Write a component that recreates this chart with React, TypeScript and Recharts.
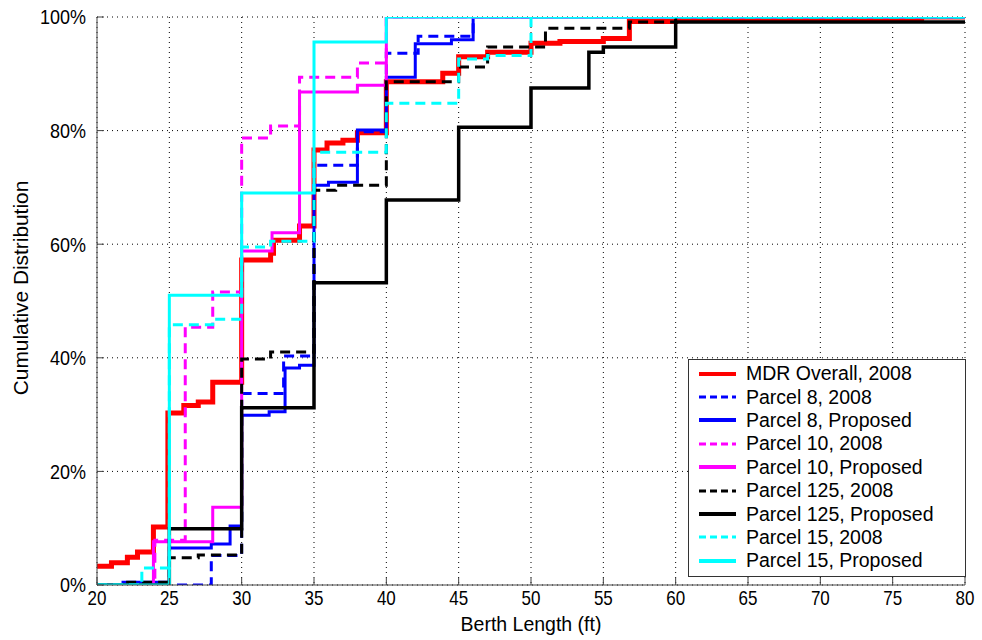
import { LineChart, Line, XAxis, YAxis, CartesianGrid } from 'recharts';

type Step = [number, number];

const FONT = 'Arial, "Liberation Sans", sans-serif';

const xTicks = [20, 25, 30, 35, 40, 45, 50, 55, 60, 65, 70, 75, 80];
const yTicks = [0, 20, 40, 60, 80, 100];

// CDF steps: [berth length ft, cumulative %], drawn stepAfter
const mdrOverall: Step[] = [
  [20, 3.3], [21, 3.9], [22.1, 4.9], [22.8, 5.8], [23.9, 10.2], [24.9, 30.3], [26, 31.6], [27, 32.2],
  [28, 35.7], [30, 57.2], [32, 58.4], [32.2, 60.7], [34, 63.2], [35, 76.6], [35.9, 77.8], [37, 78.3],
  [38, 79.6], [40, 88.6], [43.9, 90.1], [45, 93], [47, 93.8], [50, 95.4], [52, 95.7], [55, 96.2],
  [56.8, 99.2], [60, 99.6], [77, 100], [80, 100],
];
const parcel8_2008: Step[] = [
  [20, 0], [27.9, 5.2], [30, 33.7], [32.9, 40.3], [35, 73.9], [38, 79.8], [40, 93.6], [42.2, 96.6],
  [46, 100], [80, 100],
];
const parcel8_prop: Step[] = [
  [20, 0], [21.8, 0.5], [25, 6.5], [27.9, 7.2], [29.2, 10.4], [30, 29.9], [31.9, 30.5], [33, 38.2],
  [34, 38.7], [35, 70.4], [36, 70.9], [38, 80.1], [40, 89.4], [42, 95.3], [44.5, 96], [46, 100], [80, 100],
];
const parcel10_2008: Step[] = [
  [20, 0], [24, 7.9], [26.1, 45.4], [28, 51.6], [30, 78.7], [32, 80.8], [34, 89.4], [38, 91.9],
  [40, 100], [80, 100],
];
const parcel10_prop: Step[] = [
  [20, 0], [23.9, 7.6], [28, 13.7], [30, 58.8], [32.1, 62], [34, 86.8], [38, 88], [40, 100], [80, 100],
];
const parcel125_2008: Step[] = [
  [20, 0], [22, 0.5], [25, 4.8], [27, 5.3], [30, 39.8], [32, 41], [35, 69.5], [36.5, 70.4], [40, 88.6],
  [45, 91.2], [47, 94.7], [51, 98], [56.8, 99.1], [60, 100], [80, 100],
];
const parcel125_prop: Step[] = [
  [20, 0], [25, 9.9], [30, 31.2], [35, 53.2], [40, 67.8], [45, 80.6], [50, 87.5], [54, 93.8],
  [55, 94.7], [60, 99.1], [80, 99.1],
];
const parcel15_2008: Step[] = [
  [20, 0], [23.1, 3], [25, 45.8], [28, 46.8], [30, 59.5], [32, 60.5], [35, 76.2], [40, 84.8],
  [45, 92.6], [47, 93.2], [50, 100], [80, 100],
];
const parcel15_prop: Step[] = [
  [20, 0], [25, 51], [30, 69], [35, 95.6], [40, 100], [80, 100],
];

const series = [
  { name: 'MDR Overall, 2008', pts: mdrOverall, color: '#ff0000', width: 5, dashed: false },
  { name: 'Parcel 8, 2008', pts: parcel8_2008, color: '#0000ff', width: 3, dashed: true },
  { name: 'Parcel 8, Proposed', pts: parcel8_prop, color: '#0000ff', width: 3, dashed: false },
  { name: 'Parcel 10, 2008', pts: parcel10_2008, color: '#ff00ff', width: 3, dashed: true },
  { name: 'Parcel 10, Proposed', pts: parcel10_prop, color: '#ff00ff', width: 3, dashed: false },
  { name: 'Parcel 125, 2008', pts: parcel125_2008, color: '#000000', width: 3, dashed: true },
  { name: 'Parcel 125, Proposed', pts: parcel125_prop, color: '#000000', width: 3.5, dashed: false },
  { name: 'Parcel 15, 2008', pts: parcel15_2008, color: '#00ffff', width: 3, dashed: true },
  { name: 'Parcel 15, Proposed', pts: parcel15_prop, color: '#00ffff', width: 3, dashed: false },
];

const DASH = '10 6';

function XTick({ x, y, payload }: any) {
  return (
    <text transform={`translate(${x},${y}) scale(1,1.2)`} textAnchor="middle" dominantBaseline="central"
      fontSize={17} fontFamily={FONT} fill="#000">{payload.value}</text>
  );
}

function YTick({ x, y, payload }: any) {
  return (
    <text transform={`translate(${x},${y}) scale(1,1.15)`} textAnchor="end" dominantBaseline="central"
      fontSize={18} fontFamily={FONT} fill="#000">{payload.value}%</text>
  );
}

function Legend() {
  return (
    <div style={{
      position: 'absolute', left: 688, top: 359, width: 276, height: 214, border: '1px solid #333',
      background: '#fff', fontFamily: FONT, fontSize: 19.5, color: '#000', paddingTop: 2, boxSizing: 'content-box',
    }}>
      {series.map((s) => (
        <div key={s.name} style={{ height: 23.4, display: 'flex', alignItems: 'center' }}>
          <svg width={50} height={10} style={{ marginLeft: 9, marginRight: 10 }}>
            <line x1={1} y1={5} x2={38} y2={5} stroke={s.color} strokeWidth={s.dashed ? 3 : 4}
              strokeDasharray={s.dashed ? '7 4' : undefined} />
          </svg>
          <span style={{ marginLeft: -12, whiteSpace: 'nowrap' }}>{s.name}</span>
        </div>
      ))}
    </div>
  );
}

export default function App() {
  return (
    <div style={{ position: 'absolute', left: 0, top: 0, width: 982, height: 640, background: '#fff' }}>
      <LineChart width={982} height={640} margin={{ top: 17, right: 17, bottom: 0, left: 0 }}>
        <CartesianGrid stroke="#000" strokeDasharray="1 4" ticks={undefined} />
        <XAxis dataKey="x" type="number" domain={[20, 80]} ticks={xTicks} allowDataOverflow
          height={55} stroke="#444" tickSize={-7} tickMargin={20} tick={<XTick />}
          label={{
            content: () => (
              <text transform="translate(531,624) scale(1,1.07)" textAnchor="middle" dominantBaseline="central"
                fontSize={19.5} fontFamily={FONT} fill="#000">Berth Length (ft)</text>
            ),
          }} />
        <XAxis xAxisId="top" orientation="top" type="number" domain={[20, 80]} ticks={xTicks}
          allowDataOverflow height={0} stroke="#444" tickSize={-7} tick={false} />
        <YAxis type="number" domain={[0, 100]} ticks={yTicks} allowDataOverflow width={97} stroke="#444"
          tickSize={-7} tickMargin={18} tick={<YTick />}
          label={{
            content: () => (
              <text transform="translate(21,288) rotate(-90) scale(1.07,1)" textAnchor="middle"
                dominantBaseline="central" fontSize={19.5} fontFamily={FONT} fill="#000">Cumulative Distribution</text>
            ),
          }} />
        <YAxis yAxisId="right" orientation="right" type="number" domain={[0, 100]} ticks={yTicks}
          allowDataOverflow width={0} stroke="#444" tickSize={-7} tick={false} />
        {series.map((s) => (
          <Line key={s.name} data={s.pts.map(([x, y]) => ({ x, y }))} dataKey="y" name={s.name}
            type="stepAfter" stroke={s.color} strokeWidth={s.width}
            strokeDasharray={s.dashed ? DASH : undefined} dot={false} activeDot={false}
            isAnimationActive={false} />
        ))}
      </LineChart>
      <Legend />
    </div>
  );
}
